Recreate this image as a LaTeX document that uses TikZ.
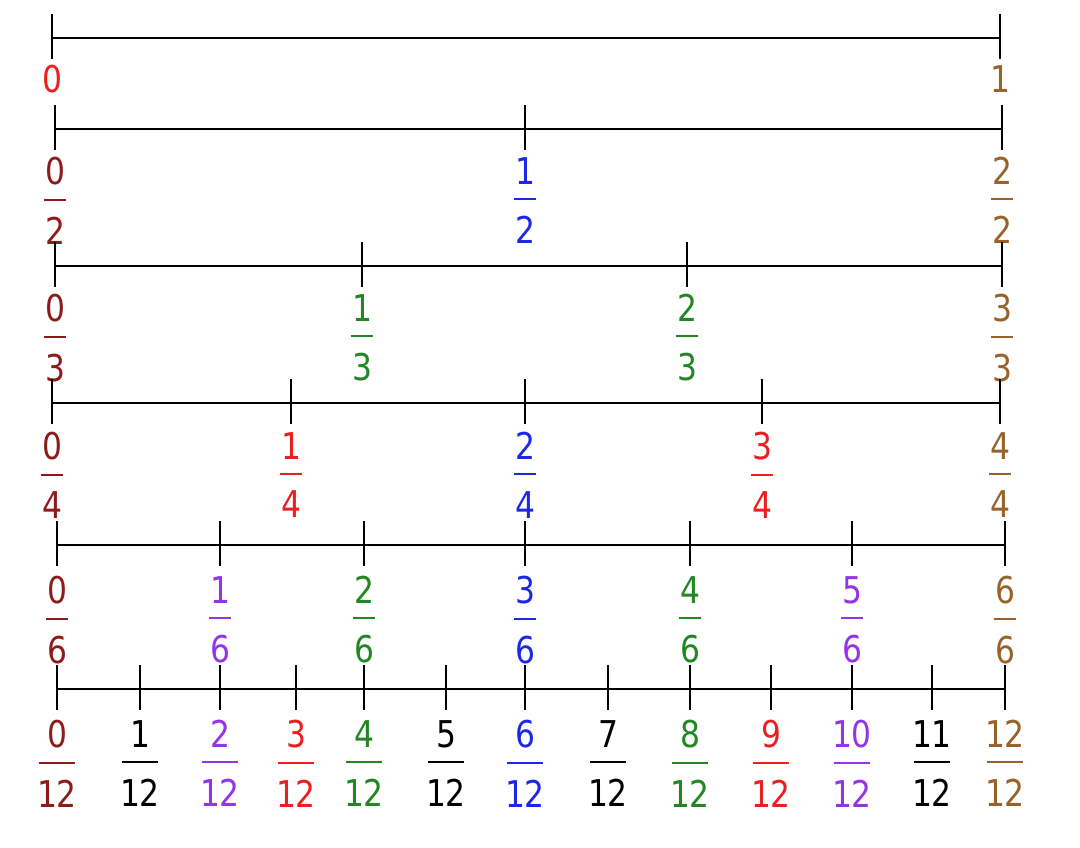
\documentclass[tikz,border=0pt]{standalone}
\usepackage{fontspec}
\newfontfamily\digfont[FakeStretch=0.85]{DejaVu Sans}
\definecolor{zerocol}{RGB}{140,28,28}
\definecolor{onecol}{RGB}{152,98,42}
\definecolor{halfcol}{RGB}{28,40,228}
\definecolor{thirdcol}{RGB}{34,134,34}
\definecolor{quartcol}{RGB}{232,32,32}
\definecolor{sixthcol}{RGB}{146,52,232}
% stacked fraction: numerator, bar, denominator
\newcommand{\fr}[2]{\setbox0\hbox{#2}\vbox{\offinterlineskip
  \halign{\hfil##\hfil\cr #1\cr\noalign{\kern7.6pt}
  \rule{\dimexpr\wd0*7/10+5pt\relax}{1.1pt}\cr\noalign{\kern9.2pt}#2\cr}}}
\tikzset{
  numline/.style={line width=1.5pt},
  tickmark/.style={line width=1.5pt},
  lbl/.style={inner sep=0pt, anchor=north, font=\digfont\fontsize{21}{25}\selectfont}
}
\begin{document}
\begin{tikzpicture}[x=0.02cm, y=-0.02cm]
\useasboundingbox (0,0) rectangle (1080,848);
% whole
\foreach \k/\x/\c in {0/52/quartcol, 1/1000/onecol} {
    \coordinate (t1-\k) at (\x,38);
    \draw[tickmark] (\x,38-24) -- (\x,38+21);
    \node[lbl, text=\c] (r1-\k) at (\x,38+27) {\k};
}
\draw[numline] (t1-0) -- (t1-1);
% halves
\foreach \k/\x/\c in {0/55/zerocol, 1/525/halfcol, 2/1002/onecol} {
    \coordinate (t2-\k) at (\x,129);
    \draw[tickmark] (\x,129-24) -- (\x,129+21);
    \node[lbl, text=\c] (r2-\k) at (\x,129+28) {\fr{\k}{2}};
}
\draw[numline] (t2-0) -- (t2-2);
% thirds
\foreach \k/\x/\c in {0/55/zerocol, 1/362/thirdcol, 2/687/thirdcol, 3/1002/onecol} {
    \coordinate (t3-\k) at (\x,266);
    \draw[tickmark] (\x,266-24) -- (\x,266+21);
    \node[lbl, text=\c] (r3-\k) at (\x,266+28) {\fr{\k}{3}};
}
\draw[numline] (t3-0) -- (t3-3);
% quarters
\foreach \k/\x/\c in {0/52/zerocol, 1/291/quartcol, 2/525/halfcol, 3/762/quartcol, 4/1000/onecol} {
    \coordinate (t4-\k) at (\x,403);
    \draw[tickmark] (\x,403-24) -- (\x,403+21);
    \node[lbl, text=\c] (r4-\k) at (\x,403+29) {\fr{\k}{4}};
}
\draw[numline] (t4-0) -- (t4-4);
% sixths
\foreach \k/\x/\c in {0/57/zerocol, 1/220/sixthcol, 2/364/thirdcol, 3/525/halfcol, 4/690/thirdcol, 5/852/sixthcol, 6/1005/onecol} {
    \coordinate (t6-\k) at (\x,545);
    \draw[tickmark] (\x,545-24) -- (\x,545+21);
    \node[lbl, text=\c] (r6-\k) at (\x,545+31) {\fr{\k}{6}};
}
\draw[numline] (t6-0) -- (t6-6);
% twelfths
\foreach \k/\x/\c in {0/57/zerocol, 1/140/black, 2/220/sixthcol, 3/296/quartcol, 4/364/thirdcol,
    5/446/black, 6/525/halfcol, 7/608/black, 8/690/thirdcol, 9/771/quartcol, 10/852/sixthcol,
    11/932/black, 12/1005/onecol} {
    \coordinate (t12-\k) at (\x,689);
    \draw[tickmark] (\x,689-24) -- (\x,689+21);
    \node[lbl, text=\c] (r12-\k) at (\x,689+31) {\fr{\k}{12}};
}
\draw[numline] (t12-0) -- (t12-12);
\end{tikzpicture}
\end{document}
